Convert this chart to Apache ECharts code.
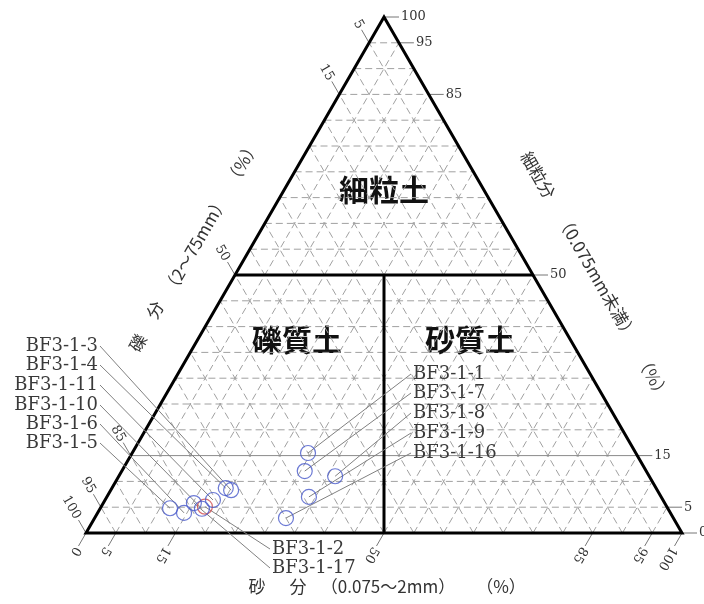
<!DOCTYPE html>
<html>
<head>
<meta charset="utf-8">
<script src="https://cdn.jsdelivr.net/npm/echarts@6/dist/echarts.min.js"></script>
<style>
  html, body { margin: 0; padding: 0; background: #fff; }
  #main { width: 704px; height: 604px; }
</style>
</head>
<body>
<div id="main"></div>
<script>
  // 試料と粒度組成 (%)
  var samples = ['BF3-1-1', 'BF3-1-2', 'BF3-1-3', 'BF3-1-4', 'BF3-1-5', 'BF3-1-6', 'BF3-1-7',
                 'BF3-1-8', 'BF3-1-9', 'BF3-1-10', 'BF3-1-11', 'BF3-1-16', 'BF3-1-17'];
  var gravel = [55.0, 77.5, 71.5, 72.2, 83.5, 81.6, 57.3, 52.7, 59.1, 78.2, 75.5, 65.0, 79.0];
  var sand   = [29.5, 17.4, 20.2, 19.1, 11.7, 14.5, 30.7, 36.3, 33.9, 17.1, 18.1, 32.1, 15.2];
  var fines  = [15.5,  5.1,  8.3,  8.7,  4.8,  3.9, 12.0, 11.0,  7.0,  4.7,  6.4,  2.9,  5.8];
  var redSamples = ['BF3-1-2'];

  // 目盛
  var finesTicks = [0, 5, 15, 50, 85, 95, 100];
  var gravelTicks = [5, 15, 50, 85, 95, 100];
  var sandTicks = [0, 5, 15, 50, 85, 95, 100];
  var gridLevels = [5, 10, 15, 20, 25, 30, 35, 40, 45, 50, 55, 60, 65, 70, 75, 80, 85, 90, 95];

  // ラベルの配置 (px)
  var labelLayout = {
    'BF3-1-3': [98, 346, 'right'], 'BF3-1-4': [98, 365, 'right'], 'BF3-1-11': [98, 385, 'right'],
    'BF3-1-10': [98, 405, 'right'], 'BF3-1-6': [98, 424, 'right'], 'BF3-1-5': [98, 443, 'right'],
    'BF3-1-2': [272, 549, 'left'], 'BF3-1-17': [272, 568, 'left'],
    'BF3-1-1': [413, 374, 'left'], 'BF3-1-7': [413, 393, 'left'], 'BF3-1-8': [413, 413, 'left'],
    'BF3-1-9': [413, 433, 'left'], 'BF3-1-16': [413, 453, 'left']
  };

  var SQ = Math.sqrt(3) / 2;
  // 砂分・細粒分 -> 直交座標
  function tern(s, f) { return [s + f / 2, f * SQ]; }
  function seg(s1, f1, s2, f2) {
    var a = tern(s1, f1), b = tern(s2, f2);
    return [a[0], a[1], b[0], b[1]];
  }

  var gridLines = [];
  gridLevels.forEach(function (v) {
    if (v !== 50 && v !== 15) gridLines.push(seg(0, v, 100 - v, v));
    gridLines.push(seg(v, 0, v, 100 - v));
    gridLines.push(seg(100 - v, 0, 0, 100 - v));
  });
  var frameLines = [seg(0, 50, 50, 50), seg(50, 0, 25, 50)];

  var serif = '"DejaVu Serif", "Liberation Serif", serif';
  var jp = '"Noto Sans CJK JP", sans-serif';

  function lineItem(api, color, width, dash) {
    var p1 = api.coord([api.value(0), api.value(1)]);
    var p2 = api.coord([api.value(2), api.value(3)]);
    return {
      type: 'line',
      shape: {x1: p1[0], y1: p1[1], x2: p2[0], y2: p2[1]},
      style: {stroke: color, lineWidth: width, lineDash: dash || null}
    };
  }

  function tickItem(api, dx, dy, val, rot, align) {
    var p = api.coord([api.value(0), api.value(1)]);
    var L = 15;
    var ex = p[0] + dx * L, ey = p[1] + dy * L;
    return {
      type: 'group',
      children: [
        {type: 'line', shape: {x1: p[0], y1: p[1], x2: ex, y2: ey},
         style: {stroke: '#777', lineWidth: 1}},
        {type: 'text', x: ex + dx * 2, y: ey + dy * 2, rotation: rot,
         style: {text: String(val), font: '13px ' + serif, fill: '#333',
                 align: align, verticalAlign: 'middle', textAlign: align, textVerticalAlign: 'middle'}}
      ]
    };
  }

  var chart = echarts.init(document.getElementById('main'));

  function titleText(t, x, y, rot) {
    return {type: 'text', x: x, y: y, rotation: rot,
            style: {text: t, font: '17px ' + jp, fill: '#333', align: 'center', verticalAlign: 'middle',
                    textAlign: 'center', textVerticalAlign: 'middle'}};
  }
  function zoneText(t, x, y) {
    return {type: 'text', x: x, y: y,
            style: {text: t, font: 'bold 30px ' + jp, fill: '#111', align: 'center', verticalAlign: 'middle',
                    textAlign: 'center', textVerticalAlign: 'middle'}};
  }

  chart.setOption({
    animation: false,
    grid: {left: 86, right: 22, top: 17, bottom: 71},
    xAxis: {type: 'value', min: 0, max: 100, show: false},
    yAxis: {type: 'value', min: 0, max: 100 * SQ, show: false},
    graphic: [
      zoneText('細粒土', 384, 190),
      zoneText('礫質土', 297, 340),
      zoneText('砂質土', 470, 340),
      titleText('礫', 138, 343, Math.PI / 3),
      titleText('分', 155, 310, Math.PI / 3),
      titleText('（2〜75mm）', 195, 245, Math.PI / 3),
      titleText('（%）', 242, 163, Math.PI / 3),
      titleText('細粒分', 538, 175, -Math.PI / 3),
      titleText('（0.075mm未満）', 597, 277, -Math.PI / 3),
      titleText('（%）', 653, 377, -Math.PI / 3),
      titleText('砂', 257, 587, 0),
      titleText('分', 298, 587, 0),
      titleText('（0.075〜2mm）', 388, 587, 0),
      titleText('（%）', 501, 587, 0)
    ],
    series: [
      {
        type: 'custom', name: 'grid', silent: true, z: 1,
        encode: {x: [0, 2], y: [1, 3]},
        data: gridLines,
        renderItem: function (params, api) { return lineItem(api, '#a0a0a0', 1, [7, 4]); }
      },
      {
        type: 'custom', name: 'fines15', silent: true, z: 2,
        encode: {x: [0, 2], y: [1, 3]},
        data: [seg(0, 15, 85, 15)],
        renderItem: function (params, api) { return lineItem(api, '#8a8a8a', 1); }
      },
      {
        type: 'custom', name: 'frame', silent: true, z: 3,
        encode: {x: [0, 2], y: [1, 3]},
        data: frameLines,
        renderItem: function (params, api) { return lineItem(api, '#000', 3); }
      },
      {
        type: 'custom', name: 'triangle', silent: true, z: 3,
        encode: {x: 0, y: 1},
        data: [tern(0, 0)],
        renderItem: function (params, api) {
          var pts = [tern(0, 0), tern(100, 0), tern(0, 100)].map(function (p) { return api.coord(p); });
          return {type: 'polygon', shape: {points: pts},
                  style: {fill: 'none', stroke: '#000', lineWidth: 3, lineJoin: 'miter'}};
        }
      },
      {
        type: 'custom', name: 'finesTicks', silent: true, z: 2,
        encode: {x: 0, y: 1},
        data: finesTicks.map(function (f) { return tern(100 - f, f); }),
        renderItem: function (params, api) {
          return tickItem(api, 1, 0, finesTicks[params.dataIndex], 0, 'left');
        }
      },
      {
        type: 'custom', name: 'gravelTicks', silent: true, z: 2,
        encode: {x: 0, y: 1},
        data: gravelTicks.map(function (g) { return tern(0, 100 - g); }),
        renderItem: function (params, api) {
          return tickItem(api, -0.5, -SQ, gravelTicks[params.dataIndex], -Math.PI / 3, 'right');
        }
      },
      {
        type: 'custom', name: 'sandTicks', silent: true, z: 2,
        encode: {x: 0, y: 1},
        data: sandTicks.map(function (s) { return tern(s, 0); }),
        renderItem: function (params, api) {
          return tickItem(api, -0.5, SQ, sandTicks[params.dataIndex], -2 * Math.PI / 3, 'left');
        }
      },
      {
        type: 'custom', name: 'leaders', silent: true, z: 4,
        encode: {x: 0, y: 1},
        data: samples.map(function (n, i) { return tern(sand[i], fines[i]); }),
        renderItem: function (params, api) {
          var name = samples[params.dataIndex];
          var lay = labelLayout[name];
          var p = api.coord([api.value(0), api.value(1)]);
          var ax = lay[2] === 'right' ? lay[0] + 2 : lay[0] - 2;
          return {
            type: 'group',
            children: [
              {type: 'line', shape: {x1: ax, y1: lay[1], x2: p[0], y2: p[1]},
               style: {stroke: '#808080', lineWidth: 1}},
              {type: 'text', x: lay[0], y: lay[1],
               style: {text: name, font: '18px ' + serif, fill: '#3a3a3a',
                       align: lay[2], verticalAlign: 'middle', textAlign: lay[2], textVerticalAlign: 'middle'}}
            ]
          };
        }
      },
      {
        type: 'scatter', name: 'samples', z: 5,
        symbol: 'circle', symbolSize: 15,
        data: samples.map(function (n, i) {
          var red = redSamples.indexOf(n) >= 0;
          return {
            name: n,
            value: tern(sand[i], fines[i]),
            itemStyle: {color: 'rgba(0,0,0,0)', borderColor: red ? '#d04a4a' : '#4657c9', borderWidth: 1.2}
          };
        })
      }
    ]
  });
</script>
</body>
</html>
